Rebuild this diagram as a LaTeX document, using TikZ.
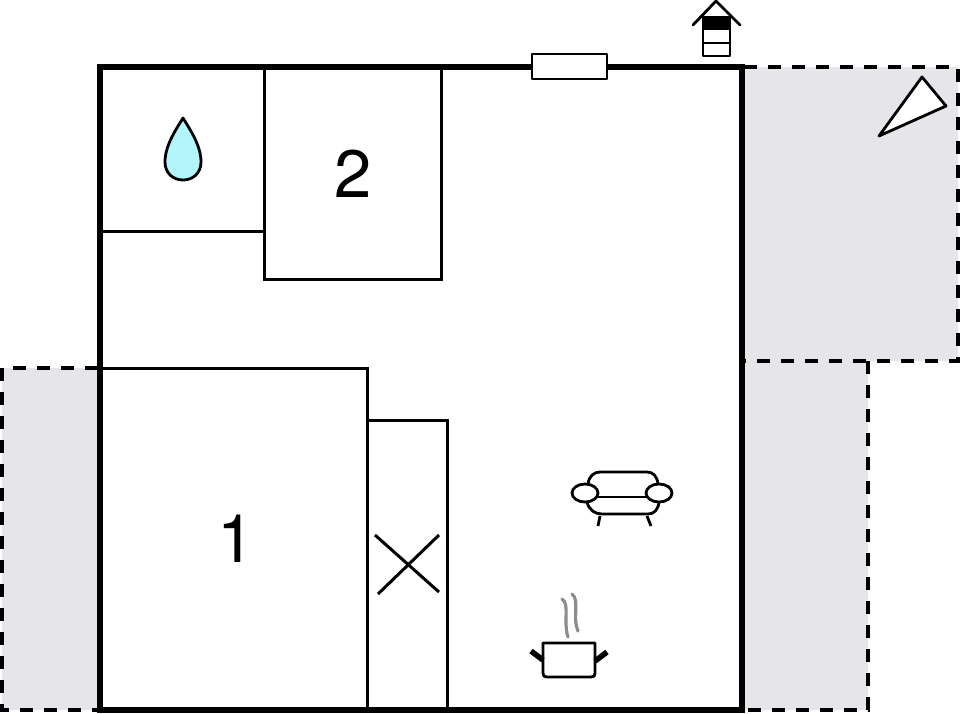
\documentclass[tikz,border=0pt]{standalone}
\usepackage{fontspec}
\setmainfont{TeX Gyre Heros}
\usepackage{xcolor}
\definecolor{terracegray}{HTML}{E5E5EA}
\definecolor{dropblue}{HTML}{B2F5FA}
\definecolor{steamgray}{HTML}{8C8C8C}
\tikzset{
  outerwall/.style={line width=6pt,line cap=rect},
  innerwall/.style={line width=3pt},
  symbol/.style={line width=2.8pt,line join=round},
  terrace/.style={fill=terracegray,draw=none},
  terraceline/.style={line width=3.4pt,dash pattern=on 13pt off 11pt},
  roomnumber/.style={font=\fontsize{67}{67}\selectfont,inner sep=0pt}
}
\begin{document}
\begin{tikzpicture}[x=1pt,y=-1pt]
\useasboundingbox (0,0) rectangle (960,713);

% terraces
\fill [terrace] (744,67) -- (958,67) -- (958,361) -- (868,361) -- (868,710) -- (744,710) -- cycle;
\fill [terrace] (2,368) -- (98,368) -- (98,710) -- (2,710) -- cycle;
\draw [terraceline] (744,67) -- (958,67) -- (958,361) -- (744,361);
\draw [terraceline] (868,361) -- (868,710) -- (744,710);
\draw [terraceline] (98,368) -- (2,368) -- (2,710) -- (98,710);

% rooms
\draw [innerwall] (100,231) -- (264,231);
\draw [innerwall] (264,67) -- (264,279) -- (441,279) -- (441,67);
\draw [innerwall] (100,368) -- (367,368) -- (367,710);
\draw [innerwall] (367,420) -- (447,420) -- (447,710);
\draw [outerwall] (100,67) rectangle (742,710);

% window
\draw [symbol,fill=white] (532,54) rectangle (607,79);

% stairs
\draw [innerwall] (375,535) -- (439,592);
\draw [innerwall] (378,594) -- (439,535);

% room numbers
\node [roomnumber] (n1) at (236,539) {1};
\node [roomnumber] (n2) at (353,174) {2};

% bathroom
\draw [symbol,fill=dropblue] (183,118) .. controls (175,131) and (165,146) .. (165,162)
  .. controls (165,173) and (173,180) .. (183,180)
  .. controls (193,180) and (201,173) .. (201,162)
  .. controls (201,146) and (191,131) .. (183,118) -- cycle;

% chimney
\draw [symbol,line cap=round] (693,25) -- (716,1) -- (740,25);
\draw [symbol] (703,17) rectangle (730,56);
\fill (703,17) rectangle (730,30);
\draw [symbol] (703,43) -- (730,43);

% north arrow
\draw [symbol,fill=white] (879,136) -- (922,77) -- (946,106) -- cycle;

% sofa
\draw [symbol] (588,484) .. controls (589,476) and (594,472) .. (600,472) -- (647,472) .. controls (653,472) and (657,476) .. (658,484);
\draw [symbol] (598,497) -- (647,497);
\draw [symbol] (587,502) .. controls (589,510) and (595,514) .. (602,514) -- (648,514) .. controls (654,514) and (658,510) .. (659,502);
\draw [symbol] (585,493) ellipse (13 and 9);
\draw [symbol] (659,493) ellipse (13 and 9);
\draw [symbol] (600,516) -- (598,526);
\draw [symbol] (647,516) -- (651,526);

% pot
\draw [symbol] (543,643) -- (595,643) -- (595,673) .. controls (595,676) and (594,677) .. (591,677) -- (547,677) .. controls (544,677) and (543,676) .. (543,673) -- cycle;
\draw [line width=5.5pt] (531,651) -- (543,660);
\draw [line width=5.5pt] (607,652) -- (595,661);
\draw [line width=3.2pt,steamgray,line cap=round] (562,599) .. controls (570,604) and (563,622) .. (568,637);
\draw [line width=3.2pt,steamgray,line cap=round] (572,594) .. controls (580,600) and (572,618) .. (578,631);
\end{tikzpicture}
\end{document}
